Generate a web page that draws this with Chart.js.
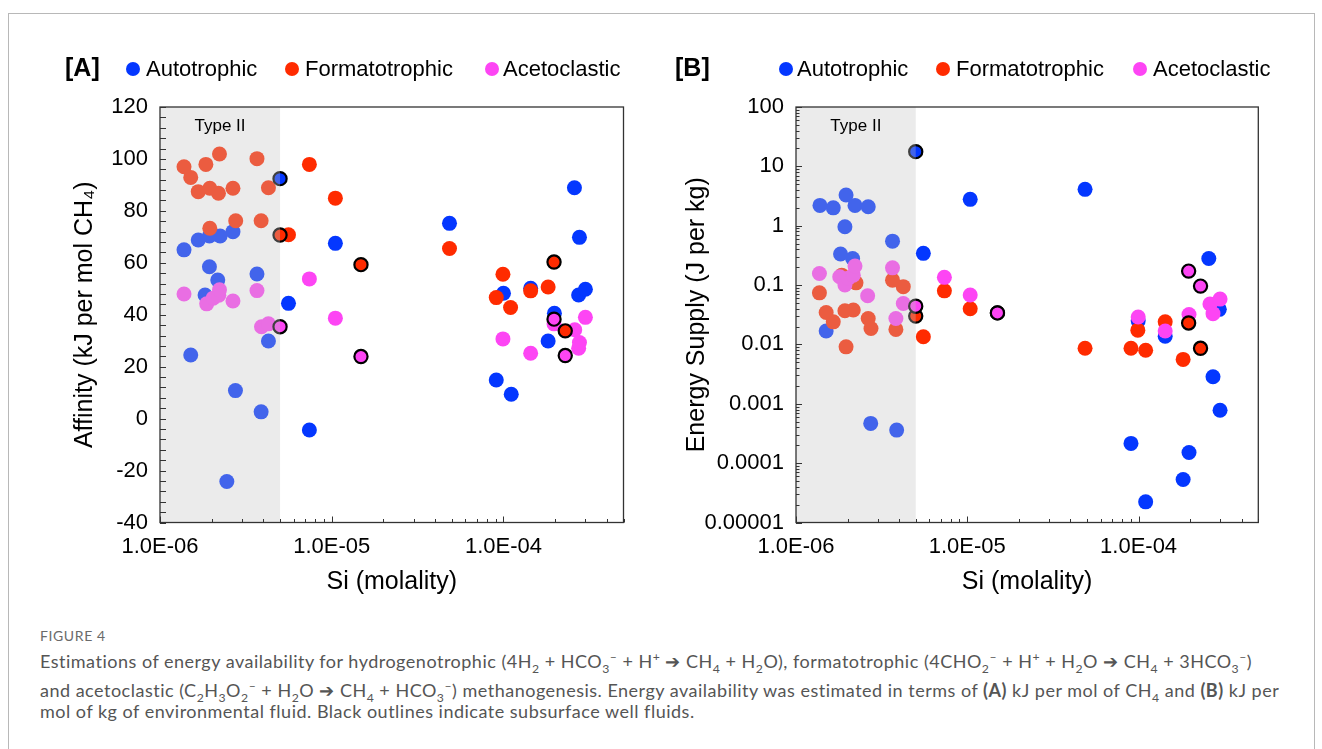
<!DOCTYPE html>
<html>
<head>
<meta charset="utf-8">
<script src="https://cdn.jsdelivr.net/npm/chart.js@4.4.1/dist/chart.umd.min.js"></script>
<style>
  body { margin: 0; width: 1322px; height: 749px; overflow: hidden; position: relative; background: #fff;
         font-family: "Liberation Sans", Arial, sans-serif; }
  .frame { position: absolute; left: 8px; top: 13px; width: 1305px; height: 800px; border: 1px solid #b8b8b8; }
  canvas { position: absolute; top: 0; }
  #chartA { left: 0; }
  #chartB { left: 661px; }
  .tag { position: absolute; top: 53px; font-size: 25px; line-height: 28px; font-weight: bold; color: #000; }
  .leg { position: absolute; top: 57px; font-size: 22px; line-height: 24px; color: #000; white-space: nowrap; }
  .dot { position: absolute; top: 62px; width: 14px; height: 14px; border-radius: 50%; }
  .figno { position: absolute; left: 40px; top: 627px; font: 14px Lato, sans-serif; color: #6a6a6a; letter-spacing: 0.6px; }
  .cap { position: absolute; left: 40px; font: 18px Lato, sans-serif; color: #555; line-height: 20px; white-space: nowrap; letter-spacing: 0.5px; }
  .cap sub, .cap sup { font-size: 0.68em; line-height: 0; }
</style>
</head>
<body>
<div class="frame"></div>
<canvas id="chartA" width="661" height="600"></canvas>
<canvas id="chartB" width="661" height="600"></canvas>

<div class="tag" style="left:65px">[A]</div>
<div class="dot" style="left:126px;background:#0437ff"></div><div class="leg" style="left:146px">Autotrophic</div>
<div class="dot" style="left:285px;background:#ff2b00"></div><div class="leg" style="left:305px">Formatotrophic</div>
<div class="dot" style="left:485px;background:#fd45f4"></div><div class="leg" style="left:503px">Acetoclastic</div>

<div class="tag" style="left:675px">[B]</div>
<div class="dot" style="left:779px;background:#0437ff"></div><div class="leg" style="left:797px">Autotrophic</div>
<div class="dot" style="left:936px;background:#ff2b00"></div><div class="leg" style="left:956px">Formatotrophic</div>
<div class="dot" style="left:1133px;background:#fd45f4"></div><div class="leg" style="left:1153px">Acetoclastic</div>

<div class="figno">FIGURE 4</div>
<div class="cap" style="top:651px">Estimations of energy availability for hydrogenotrophic (4H<sub>2</sub> + HCO<sub>3</sub><sup>–</sup> + H<sup>+</sup> ➔ CH<sub>4</sub> + H<sub>2</sub>O), formatotrophic (4CHO<sub>2</sub><sup>–</sup> + H<sup>+</sup> + H<sub>2</sub>O ➔ CH<sub>4</sub> + 3HCO<sub>3</sub><sup>–</sup>)</div>
<div class="cap" style="top:680px">and acetoclastic (C<sub>2</sub>H<sub>3</sub>O<sub>2</sub><sup>–</sup> + H<sub>2</sub>O ➔ CH<sub>4</sub> + HCO<sub>3</sub><sup>–</sup>) methanogenesis. Energy availability was estimated in terms of <b>(A)</b> kJ per mol of CH<sub>4</sub> and <b>(B)</b> kJ per</div>
<div class="cap" style="top:701px">mol of kg of environmental fluid. Black outlines indicate subsurface well fluids.</div>

<script>
// ---- axis ticks ----
const siTicks = [1e-6, 1e-5, 1e-4];
const siTickLabels = ['1.0E-06', '1.0E-05', '1.0E-04'];
const affTicks = [-40, -20, 0, 20, 40, 60, 80, 100, 120];
const affTickLabels = ['-40', '-20', '0', '20', '40', '60', '80', '100', '120'];
const supplyTicks = [1e-5, 1e-4, 1e-3, 1e-2, 1e-1, 1, 10, 100];
const supplyTickLabels = ['0.00001', '0.0001', '0.001', '0.01', '0.1', '1', '10', '100'];

// ---- [A] affinity, kJ per mol CH4 ----
const autoSiA  = [1.38e-6, 1.51e-6, 1.67e-6, 1.83e-6, 1.94e-6, 1.94e-6, 2.17e-6, 2.24e-6, 2.45e-6, 2.66e-6, 2.75e-6, 3.67e-6, 3.88e-6, 4.28e-6,
                  5.6e-6, 7.41e-6, 1.05e-5, 4.85e-5, 9.08e-5, 1.0e-4, 1.11e-4, 1.44e-4, 1.82e-4, 1.98e-4, 2.59e-4, 2.74e-4, 2.77e-4, 3.0e-4];
const autoAffA = [65, 24.5, 68.8, 47.6, 70.3, 58.5, 53.4, 70.3, -24.2, 72.0, 10.8, 55.7, 2.6, 29.9,
                  44.4, -4.4, 67.5, 75.2, 14.9, 48.3, 9.4, 50.2, 29.9, 40.6, 88.9, 47.6, 69.8, 49.8];
const formSiA  = [1.38e-6, 1.51e-6, 1.67e-6, 1.85e-6, 1.95e-6, 1.95e-6, 2.19e-6, 2.22e-6, 2.66e-6, 2.76e-6, 3.67e-6, 3.88e-6, 4.28e-6,
                  5.6e-6, 7.41e-6, 1.05e-5, 4.85e-5, 9.08e-5, 9.93e-5, 1.10e-4, 1.44e-4, 1.82e-4];
const formAffA = [97.0, 92.9, 87.4, 97.9, 88.7, 73.3, 86.8, 101.9, 88.7, 76.2, 100.1, 76.2, 88.9,
                  70.8, 97.9, 84.9, 65.5, 46.6, 55.6, 42.8, 49.2, 50.7];
const aceSiA   = [1.38e-6, 1.87e-6, 2.04e-6, 2.2e-6, 2.22e-6, 2.66e-6, 3.67e-6, 3.9e-6, 4.28e-6, 7.41e-6, 1.05e-5,
                  9.93e-5, 1.44e-4, 1.97e-4, 2.6e-4, 2.74e-4, 2.77e-4, 3.0e-4];
const aceAffA  = [48, 44.2, 46.4, 47.5, 49.6, 45.3, 49.3, 35.4, 36.5, 53.8, 38.7,
                  30.7, 25.2, 36.5, 34.2, 27.1, 29.3, 39];
const wellSiA   = [5e-6, 5e-6, 1.48e-5, 5e-6, 1.48e-5, 1.97e-4, 1.97e-4, 2.29e-4, 2.29e-4];
const wellAffA  = [92.4, 70.7, 59.3, 35.4, 23.9, 60.3, 38.3, 33.8, 24.3];
const wellTypeA = ['auto', 'form', 'form', 'ace', 'ace', 'form', 'ace', 'form', 'ace'];

// ---- [B] energy supply, J per kg ----
const autoSiB  = [1.38e-6, 1.5e-6, 1.65e-6, 1.82e-6, 1.93e-6, 1.96e-6, 2.14e-6, 2.21e-6, 2.64e-6, 2.73e-6, 3.66e-6, 3.87e-6, 5.54e-6,
                  1.04e-5, 4.87e-5, 9.03e-5, 9.95e-5, 1.1e-4, 1.43e-4, 1.82e-4, 1.97e-4, 2.57e-4, 2.72e-4, 2.96e-4, 2.99e-4];
const autoSupB = [2.2, 0.0168, 2.0, 0.333, 0.96, 3.29, 0.28, 2.2, 2.09, 0.000467, 0.55, 0.00036, 0.342,
                  2.78, 4.1, 0.000215, 0.025, 0.0000223, 0.0138, 0.000053, 0.000151, 0.28, 0.00285, 0.039, 0.00078];
const formSiB  = [1.37e-6, 1.5e-6, 1.65e-6, 1.85e-6, 1.93e-6, 1.96e-6, 2.16e-6, 2.24e-6, 2.64e-6, 2.74e-6, 3.66e-6, 3.83e-6, 4.23e-6,
                  5.54e-6, 7.35e-6, 1.04e-5, 4.87e-5, 9.03e-5, 9.9e-5, 1.10e-4, 1.43e-4, 1.82e-4];
const formSupB = [0.074, 0.0346, 0.024, 0.147, 0.037, 0.0091, 0.038, 0.109, 0.0274, 0.0186, 0.121, 0.0179, 0.094,
                  0.0135, 0.080, 0.040, 0.0086, 0.0086, 0.0174, 0.008, 0.024, 0.0056];
const aceSiB   = [1.37e-6, 1.8e-6, 1.93e-6, 2.02e-6, 2.16e-6, 2.21e-6, 2.62e-6, 3.66e-6, 3.83e-6, 4.23e-6, 7.35e-6, 1.04e-5,
                  9.95e-5, 1.43e-4, 1.97e-4, 2.61e-4, 2.72e-4, 2.99e-4];
const aceSupB  = [0.157, 0.138, 0.1, 0.13, 0.147, 0.209, 0.066, 0.195, 0.0274, 0.049, 0.135, 0.068,
                  0.029, 0.0168, 0.032, 0.048, 0.033, 0.058];
const wellSiB   = [5e-6, 5e-6, 5e-6, 1.5e-5, 1.5e-5, 1.96e-4, 2.3e-4, 1.96e-4, 2.3e-4];
const wellSupB  = [17.7, 0.030, 0.044, 0.034, 0.034, 0.023, 0.0086, 0.172, 0.096];
const wellTypeB = ['auto', 'form', 'ace', 'form', 'ace', 'form', 'form', 'ace', 'ace'];

const BLUE = '#0437ff';
const RED = '#ff2b00';
const PINK = '#fd45f4';
const typeColor = { auto: BLUE, form: RED, ace: PINK };
const FONT = '"Liberation Sans", Arial, sans-serif';

const pts = (xs, ys) => xs.map((x, i) => ({ x, y: ys[i] }));

// k * 10^e marks for log axes
function logMarks(lo, hi) {
  const out = [];
  for (let e = Math.floor(Math.log10(lo)); e <= Math.ceil(Math.log10(hi)); e++) {
    for (let k = 1; k <= 9; k++) {
      const v = Number((k * Math.pow(10, e)).toPrecision(3));
      if (v >= lo * 0.999 && v <= hi * 1.001) out.push({ v, major: k === 1 });
    }
  }
  return out;
}

const panelPlugin = {
  id: 'panel',
  afterDatasetsDraw(chart, args, opts) {
    const { ctx, chartArea: a, scales: { x, y } } = chart;
    ctx.save();

    // translucent "Type II" band laid over the points
    const x0 = x.getPixelForValue(opts.shadeFrom);
    const x1 = x.getPixelForValue(opts.shadeTo);
    ctx.fillStyle = 'rgba(195,195,195,0.33)';
    ctx.fillRect(x0, a.top, x1 - x0, a.bottom - a.top);
    ctx.fillStyle = '#000';
    ctx.font = '17px ' + FONT;
    ctx.textAlign = 'center';
    ctx.textBaseline = 'middle';
    ctx.fillText('Type II', (x0 + x1) / 2, a.top + 19);

    // frame
    ctx.strokeStyle = '#333';
    ctx.lineWidth = 1.3;
    ctx.strokeRect(a.left, a.top, a.right - a.left, a.bottom - a.top);

    // inward tick marks
    ctx.lineWidth = 1;
    ctx.beginPath();
    logMarks(opts.xMin, opts.xMax).forEach(({ v, major }) => {
      const px = Math.round(x.getPixelForValue(v)) + 0.5;
      ctx.moveTo(px, a.bottom);
      ctx.lineTo(px, a.bottom - (major ? 6 : 3.5));
    });
    opts.yMarks.forEach(({ v, major }) => {
      const py = Math.round(y.getPixelForValue(v)) + 0.5;
      ctx.moveTo(a.left, py);
      ctx.lineTo(a.left + (major ? 6 : 3.5), py);
    });
    ctx.stroke();
    ctx.restore();
  }
};

function renderPanel(canvas, p) {
  const ctx = canvas.getContext('2d');
  const tickFont = { family: FONT, size: 22 };
  const titleFont = { family: FONT, size: 25 };

  return new Chart(ctx, {
    type: 'scatter',
    data: {
      datasets: [
        {
          label: 'Well fluids',
          data: pts(p.wellSi, p.wellVal),
          backgroundColor: p.wellType.map(t => typeColor[t]),
          borderColor: '#000',
          borderWidth: 2.2,
          pointRadius: 6.6,
          order: 0,
        },
        { label: 'Acetoclastic', data: pts(p.aceSi, p.aceVal), backgroundColor: PINK, borderWidth: 0, pointRadius: 7.5, order: 1 },
        { label: 'Formatotrophic', data: pts(p.formSi, p.formVal), backgroundColor: RED, borderWidth: 0, pointRadius: 7.5, order: 2 },
        { label: 'Autotrophic', data: pts(p.autoSi, p.autoVal), backgroundColor: BLUE, borderWidth: 0, pointRadius: 7.5, order: 3 },
      ],
    },
    options: {
      responsive: false,
      animation: false,
      layout: { padding: { left: 0, top: 107, right: p.padRight, bottom: 0 } },
      plugins: {
        legend: { display: false },
        tooltip: { enabled: false },
        panel: {
          shadeFrom: 1e-6,
          shadeTo: 5e-6,
          xMin: 1e-6,
          xMax: 5e-4,
          yMarks: p.yMarks,
        },
      },
      scales: {
        x: {
          type: 'logarithmic',
          min: 1e-6,
          max: 5e-4,
          afterBuildTicks: (s) => { s.ticks = siTicks.map(value => ({ value })); },
          afterFit: (s) => { s.height = 77.5; },
          ticks: {
            autoSkip: false,
            maxRotation: 0,
            color: '#000',
            font: tickFont,
            padding: 11,
            callback: (v, i) => siTickLabels[i],
          },
          grid: { display: false, drawTicks: false },
          border: { display: false },
          title: { display: true, text: 'Si (molality)', color: '#000', font: titleFont, padding: { top: 0, bottom: 3 } },
        },
        y: {
          type: p.yType,
          min: p.yMin,
          max: p.yMax,
          afterBuildTicks: (s) => { s.ticks = p.yTicks.map(value => ({ value })); },
          afterFit: (s) => { s.width = p.yWidth; },
          ticks: {
            autoSkip: false,
            color: '#000',
            font: tickFont,
            padding: 12,
            callback: (v, i) => p.yTickLabels[i],
          },
          grid: { display: false, drawTicks: false },
          border: { display: false },
          title: { display: true, text: p.yTitle, color: '#000', font: titleFont, padding: { top: p.titlePad, bottom: 0 } },
        },
      },
    },
    plugins: [panelPlugin],
  });
}

// linear affinity axis: a mark every 4 kJ
const affMarks = [];
for (let v = -40; v <= 120; v += 4) affMarks.push({ v, major: true });

renderPanel(document.getElementById('chartA'), {
  autoSi: autoSiA, autoVal: autoAffA,
  formSi: formSiA, formVal: formAffA,
  aceSi: aceSiA, aceVal: aceAffA,
  wellSi: wellSiA, wellVal: wellAffA, wellType: wellTypeA,
  yType: 'linear', yMin: -40, yMax: 120,
  yTicks: affTicks, yTickLabels: affTickLabels,
  yMarks: affMarks,
  yTitle: 'Affinity (kJ per mol CH₄)',
  yWidth: 160, titlePad: 70, padRight: 37.5,
});

renderPanel(document.getElementById('chartB'), {
  autoSi: autoSiB, autoVal: autoSupB,
  formSi: formSiB, formVal: formSupB,
  aceSi: aceSiB, aceVal: aceSupB,
  wellSi: wellSiB, wellVal: wellSupB, wellType: wellTypeB,
  yType: 'logarithmic', yMin: 1e-5, yMax: 100,
  yTicks: supplyTicks, yTickLabels: supplyTickLabels,
  yMarks: logMarks(1e-5, 100),
  yTitle: 'Energy Supply (J per kg)',
  yWidth: 135, titlePad: 21, padRight: 63.7,
});
</script>
</body>
</html>
